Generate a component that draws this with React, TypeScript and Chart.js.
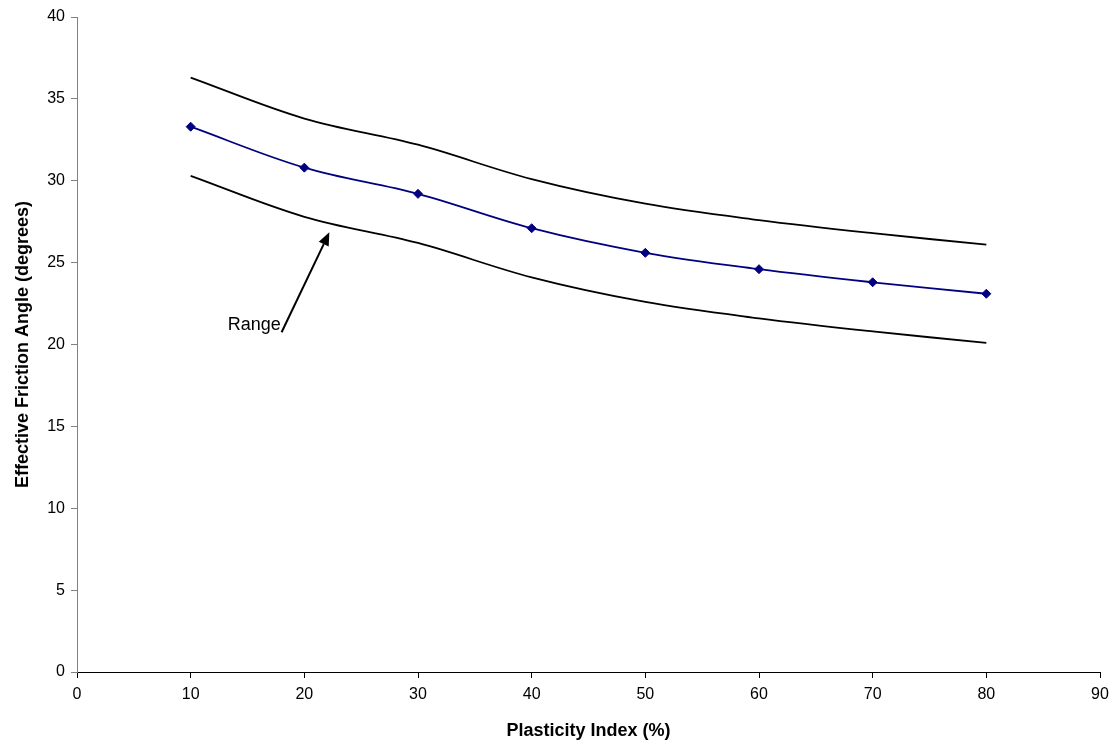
import React, { useEffect, useRef } from "react";
import { Chart, registerables } from "chart.js";

Chart.register(...registerables);

const plasticityIndex = [10, 20, 30, 40, 50, 60, 70, 80];
const meanAngle = [33.3, 30.8, 29.2, 27.1, 25.6, 24.6, 23.8, 23.1];
const upperAngle = [36.3, 33.8, 32.2, 30.1, 28.6, 27.6, 26.8, 26.1];
const lowerAngle = [30.3, 27.8, 26.2, 24.1, 22.6, 21.6, 20.8, 20.1];

const xTitle = "Plasticity Index (%)";
const yTitle = "Effective Friction Angle (degrees)";
const annotationText = "Range";
// annotation positions in data units
const arrowTail = { x: 18.0, y: 20.75 };
const arrowTip = { x: 22.2, y: 26.85 };
const labelPos = { x: 15.6, y: 21.2 };

const FONT = "Arial, 'Liberation Sans', Helvetica, sans-serif";

const arrowPlugin = {
  id: "rangeArrow",
  afterDatasetsDraw(chart: any) {
    const { ctx, scales } = chart;
    const xs = scales.x;
    const ys = scales.y;
    const x1 = xs.getPixelForValue(arrowTail.x);
    const y1 = ys.getPixelForValue(arrowTail.y);
    const x2 = xs.getPixelForValue(arrowTip.x);
    const y2 = ys.getPixelForValue(arrowTip.y);
    const ang = Math.atan2(y2 - y1, x2 - x1);
    const headLen = 13;
    const headW = 5.5;
    ctx.save();
    ctx.strokeStyle = "#000";
    ctx.fillStyle = "#000";
    ctx.lineWidth = 2;
    const bx = x2 - headLen * Math.cos(ang);
    const by = y2 - headLen * Math.sin(ang);
    ctx.beginPath();
    ctx.moveTo(x1, y1);
    ctx.lineTo(bx, by);
    ctx.stroke();
    ctx.beginPath();
    ctx.moveTo(x2, y2);
    ctx.lineTo(bx + headW * Math.sin(ang), by - headW * Math.cos(ang));
    ctx.lineTo(bx - headW * Math.sin(ang), by + headW * Math.cos(ang));
    ctx.closePath();
    ctx.fill();
    ctx.font = `18px ${FONT}`;
    ctx.textAlign = "center";
    ctx.textBaseline = "middle";
    ctx.fillText(
      annotationText,
      xs.getPixelForValue(labelPos.x),
      ys.getPixelForValue(labelPos.y)
    );
    ctx.restore();
  },
};

export default function App() {
  const ref = useRef<HTMLCanvasElement | null>(null);
  useEffect(() => {
    document.body.style.margin = "0";
    const canvas = ref.current!;
    const toPts = (arr: number[]) =>
      plasticityIndex.map((x, i) => ({ x, y: arr[i] }));
    const chart = new Chart(canvas, {
      type: "line",
      data: {
        datasets: [
          {
            label: "Upper",
            data: toPts(upperAngle),
            borderColor: "#000000",
            borderWidth: 1.8,
            pointRadius: 0,
            tension: 0.35,
          },
          {
            label: "Mean",
            data: toPts(meanAngle),
            borderColor: "#000080",
            backgroundColor: "#000080",
            borderWidth: 1.8,
            pointStyle: "rectRot",
            pointRadius: 4.5,
            pointBorderWidth: 1,
            tension: 0.35,
          },
          {
            label: "Lower",
            data: toPts(lowerAngle),
            borderColor: "#000000",
            borderWidth: 1.8,
            pointRadius: 0,
            tension: 0.35,
          },
        ],
      },
      options: {
        animation: false,
        responsive: false,
        maintainAspectRatio: false,
        layout: { padding: { left: 0, top: 17, right: 17, bottom: 0 } },
        plugins: { legend: { display: false }, tooltip: { enabled: false } },
        scales: {
          x: {
            type: "linear",
            min: 0,
            max: 90,
            ticks: {
              stepSize: 10,
              color: "#000",
              font: { family: FONT, size: 16 },
              padding: 7,
            },
            grid: {
              drawOnChartArea: false,
              drawTicks: true,
              tickLength: 6,
              color: "#000",
            },
            border: { display: true, color: "#000", width: 1 },
            title: {
              display: true,
              text: xTitle,
              color: "#000",
              font: { family: FONT, size: 18, weight: "bold" },
              padding: { top: 0, bottom: 4 },
            },
            afterFit(scale: any) {
              scale.height = 74;
            },
          },
          y: {
            type: "linear",
            min: 0,
            max: 40,
            ticks: {
              stepSize: 5,
              color: "#000",
              font: { family: FONT, size: 16 },
              padding: 6,
            },
            grid: {
              drawOnChartArea: false,
              drawTicks: true,
              tickLength: 6,
              color: "#808080",
            },
            border: { display: true, color: "#808080", width: 1 },
            title: {
              display: true,
              text: yTitle,
              color: "#000",
              font: { family: FONT, size: 18, weight: "bold" },
              padding: { top: 12, bottom: 0 },
            },
            afterFit(scale: any) {
              scale.width = 77;
            },
          },
        },
      },
      plugins: [arrowPlugin],
    });
    return () => chart.destroy();
  }, []);
  return (
    <div style={{ width: 1117, height: 746 }}>
      <canvas ref={ref} width={1117} height={746} style={{ display: "block" }} />
    </div>
  );
}
